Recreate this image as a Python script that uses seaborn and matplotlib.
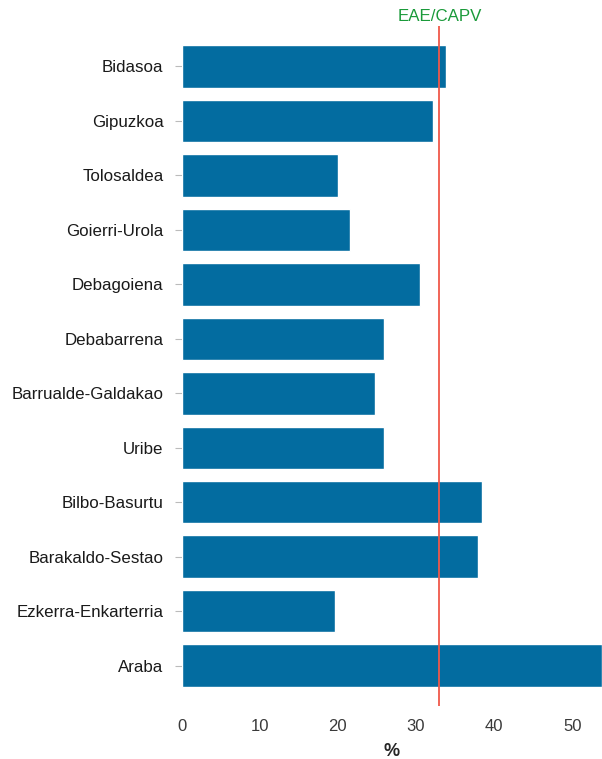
import pandas as pd
import seaborn as sns
import matplotlib
matplotlib.use("Agg")
import matplotlib.pyplot as plt

# comarcas / eskualdeak
regions = ['Bidasoa', 'Gipuzkoa', 'Tolosaldea', 'Goierri-Urola', 'Debagoiena',
           'Debabarrena', 'Barrualde-Galdakao', 'Uribe', 'Bilbo-Basurtu',
           'Barakaldo-Sestao', 'Ezkerra-Enkarterria', 'Araba']
pct = [33.8, 32.2, 20.0, 21.6, 30.5, 25.9, 24.8, 25.9, 38.5, 37.9, 19.7, 53.8]
capv = 33.0
ref_label = 'EAE/CAPV'
xticks = [0, 10, 20, 30, 40, 50]

df = pd.DataFrame({'region': regions, 'pct': pct})

sns.set_style('white')
plt.rcParams['font.family'] = ['Liberation Sans', 'DejaVu Sans']

fig = plt.figure(figsize=(6.02, 7.59), dpi=100)
ax = fig.add_axes([0.3015, 0.0698, 0.6985, 0.8959])

sns.barplot(data=df, x='pct', y='region', orient='h', color='#036ca0',
            saturation=1, width=0.78, ax=ax)

ax.axvline(capv, color='#f0584a', lw=1.3, zorder=5)
ax.text(capv, 1.003, ref_label, transform=ax.get_xaxis_transform(),
        ha='center', va='bottom', color='#1a9a3a', fontsize=12.2)

ax.set_xlim(0, 53.8)
ax.set_ylim(len(regions) - 0.26, -0.74)
ax.set_xticks(xticks)
sns.despine(ax=ax, left=True, bottom=True)

ax.tick_params(axis='y', length=5, width=0.8, color='#bbbbbb', labelsize=12.2,
               labelcolor='#1a1a1a', pad=8, left=True)
ax.tick_params(axis='x', length=0, labelsize=12, labelcolor='#3a3a3a', pad=9)
ax.set_ylabel('')
ax.set_xlabel('%', fontsize=13, fontweight='bold', labelpad=7)

fig.savefig('out.png', dpi=100)
